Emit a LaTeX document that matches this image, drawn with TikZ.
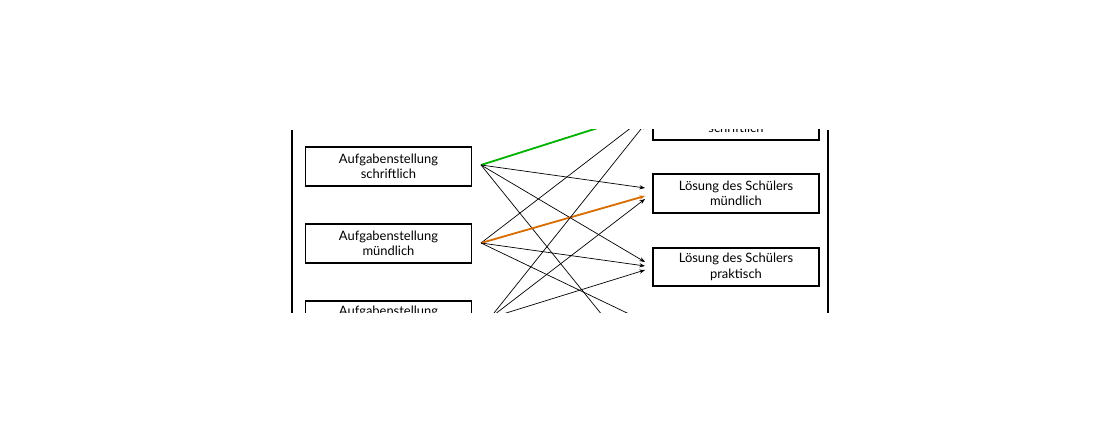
\documentclass[tikz,border=0pt]{standalone}
\usepackage{fontspec}
\setmainfont{Lato}
\usetikzlibrary{arrows.meta}

\tikzset{
  box/.style={draw, line width=1.3pt, minimum width=4.15cm, minimum height=0.97cm, align=center, font=\fontsize{9.2}{11}\selectfont, inner sep=0pt},
  link/.style={-{Stealth[length=4pt,width=3pt]}, line width=0.5pt},
}

\begin{document}
\begin{tikzpicture}[x=0.025cm, y=-0.025cm]

\useasboundingbox (0,0) rectangle (1110,444);
\clip (0,130) rectangle (1110,313);

% frame lines
\draw[line width=1pt] (292,130) -- (292,313) ;
\draw[line width=1pt] (828,130) -- (828,313) ;

% left column
\node[box] (aS) at (388.5,166.5) {Aufgabenstellung\\schriftlich} ;
\node[box] (aM) at (388.5,243.5) {Aufgabenstellung\\mündlich} ;
\node[box] (aP) at (388.5,320) {Aufgabenstellung\\praktisch} ;

% right column
\node[box] (lS) at (736,120.5) {Lösung des Schülers\\schriftlich} ;
\node[box] (lM) at (736,193.5) {Lösung des Schülers\\mündlich} ;
\node[box] (lP) at (736,267) {Lösung des Schülers\\praktisch} ;

% start points
\coordinate (sS) at (481,165) ;
\coordinate (sM) at (481,243) ;
\coordinate (sP) at (490,318) ;

% end points
\coordinate (eS1) at (645,113) ;
\coordinate (eS2) at (645,117) ;
\coordinate (eS3) at (645,124) ;
\coordinate (eM1) at (645,188) ;
\coordinate (eM2) at (645,196) ;
\coordinate (eM3) at (645,199) ;
\coordinate (eP1) at (645,262) ;
\coordinate (eP2) at (645,266) ;
\coordinate (eP3) at (645,270) ;
\coordinate (eX1) at (640,362) ;
\coordinate (eX2) at (650,324) ;

\draw[link, green!70!black, line width=1.3pt] (sS) -- (eS1) ;
\draw[link] (sS) -- (eM1) ;
\draw[link] (sS) -- (eP1) ;
\draw[link] (sS) -- (eX1) ;

\draw[link] (sM) -- (eS2) ;
\draw[link, orange!85!black, line width=1.3pt] (sM) -- (eM2) ;
\draw[link] (sM) -- (eP2) ;
\draw[link] (sM) -- (eX2) ;

\draw[link] (sP) -- (eS3) ;
\draw[link] (sP) -- (eM3) ;
\draw[link] (sP) -- (eP3) ;

\end{tikzpicture}
\end{document}
